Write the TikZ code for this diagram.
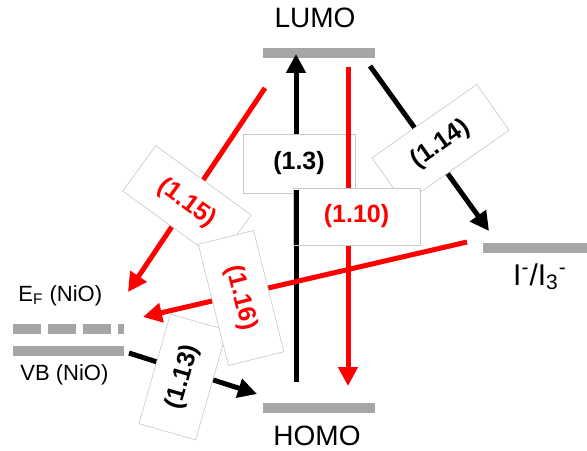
\documentclass[tikz,border=0pt]{standalone}
\usepackage{fontspec}
\setmainfont{Liberation Sans}
\usepackage{tikz}
\usetikzlibrary{arrows.meta}
\definecolor{barcol}{RGB}{166,166,166}
\definecolor{redarr}{RGB}{255,0,0}
\definecolor{boxline}{RGB}{200,200,200}
\tikzset{
  bar/.style    ={draw=barcol, line width=5pt},
  flow/.style   ={-{Triangle[length=9.5pt,width=9.5pt]}, line width=2.5pt},
  rflow/.style  ={flow, draw=redarr},
  eq/.style     ={rectangle, draw=boxline, line width=0.3pt, fill=white, inner sep=0pt,
                  font=\fontsize{12.5}{14}\selectfont\bfseries},
  req/.style    ={eq, text=redarr},
  lvl/.style    ={font=\fontsize{14}{16}\selectfont, anchor=base, inner sep=0pt},
  nio/.style    ={font=\fontsize{11}{13}\selectfont, anchor=base west, inner sep=0pt},
}
\begin{document}
\begin{tikzpicture}[x=0.5pt, y=0.5pt]
    \useasboundingbox (0,0) rectangle (587,450);

    % levels
    \draw[bar] (263,397) coordinate (lumoL) -- (375,397) coordinate (lumoR);
    \draw[bar] (263,42) coordinate (homoL) -- (375,42) coordinate (homoR);
    \draw[bar] (483,202) coordinate (redL) -- (587,202) coordinate (redR);
    \draw[bar] (13,99) coordinate (vbL) -- (124,99) coordinate (vbR);
    \draw[bar, dash pattern=on 13.75pt off 3.75pt] (13,121) coordinate (efL) -- (124,121) coordinate (efR);

    \node[lvl] (lumo) at (315,422) {LUMO};
    \node[lvl] (homo) at (317,5) {HOMO};
    \node[lvl, font=\fontsize{15}{17}\selectfont] (redox) at (540,165)
        {I\textsuperscript{-}/I\textsubscript{3}\textsuperscript{-}};
    \node[nio] (ef) at (18,149) {E\textsubscript{F} (NiO)};
    \node[nio] (vb) at (20,70) {VB (NiO)};

    % arrow ends
    \coordinate (a13s) at (296,68);   \coordinate (a13e) at (296,396);
    \coordinate (a110s) at (348,383); \coordinate (a110e) at (348,64);
    \coordinate (a114s) at (370,384); \coordinate (a114e) at (489,219);
    \coordinate (a115s) at (265,362); \coordinate (a115e) at (128,158);
    \coordinate (a116s) at (467,208); \coordinate (a116e) at (143,133);
    \coordinate (a113s) at (129,97);  \coordinate (a113e) at (257,56);

    % centre transitions
    \draw[flow] (a13s) -- (a13e);
    \node[eq, minimum width=56pt, minimum height=29.5pt] (l13) at (299,286.5) {(1.3)};
    \draw[rflow] (a110s) -- (a110e);

    \draw[flow] (a114s) -- (a114e);
    \node[eq, rotate=35, minimum width=64pt, minimum height=28pt] (l114) at (440.5,306) {(1.14)};

    \node[req, minimum width=63.5pt, minimum height=28.5pt] (l110) at (356.5,233.5) {(1.10)};
    \draw[line width=2.5pt] (296,205) -- (296,260);

    % NiO side
    \draw[rflow] (a115s) -- (a115e);
    \node[req, rotate=-36, minimum width=59pt, minimum height=28pt] (l115) at (187,247) {(1.15)};

    \draw[flow] (a113s) -- (a113e);
    \node[eq, rotate=74, minimum width=57pt, minimum height=29.5pt] (l113) at (183,73) {(1.13)};

    \draw[rflow] (a116s) -- (a116e);
    \node[req, rotate=-76, minimum width=62.5pt, minimum height=28.5pt] (l116) at (241,152) {(1.16)};
\end{tikzpicture}
\end{document}
